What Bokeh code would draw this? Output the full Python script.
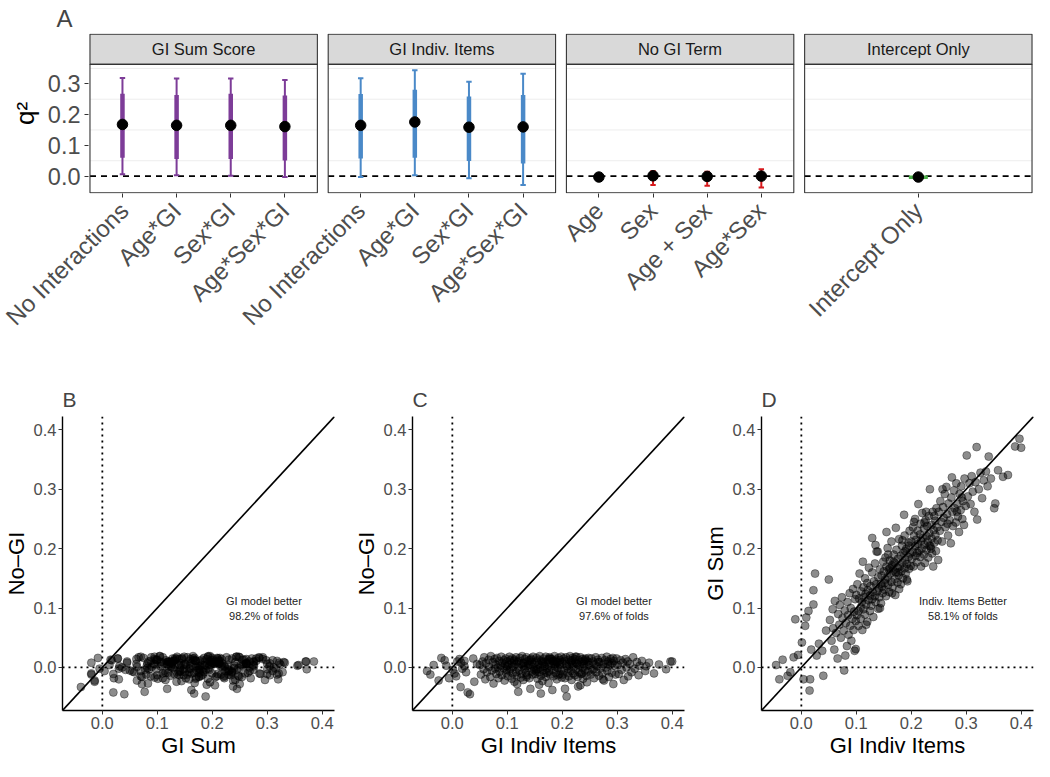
import math
from bokeh.plotting import figure
from bokeh.layouts import column, row
from bokeh.models import Range1d, FixedTicker, PrintfTickFormatter, Span, Slope
from bokeh.core.properties import value
from bokeh.embed import file_html
from bokeh.resources import INLINE

FONT = "Liberation Sans"

# ---------------- Panel A data ----------------
facet_names = ["GI Sum Score", "GI Indiv. Items", "No GI Term", "Intercept Only"]
facet_colors = ["#7D3C98", "#4A89C8", "#D7191C", "#4DAF4A"]
facet_models = [
    ["No Interactions", "Age*GI", "Sex*GI", "Age*Sex*GI"],
    ["No Interactions", "Age*GI", "Sex*GI", "Age*Sex*GI"],
    ["Age", "Sex", "Age + Sex", "Age*Sex"],
    ["Intercept Only"],
]
q2_mean = [
    [0.168, 0.165, 0.165, 0.161],
    [0.165, 0.176, 0.159, 0.160],
    [-0.003, 0.001, -0.001, 0.000],
    [-0.003],
]
q2_inner_lo = [
    [0.060, 0.056, 0.056, 0.051],
    [0.057, 0.060, 0.049, 0.041],
    [-0.004, -0.008, -0.010, -0.012],
    [-0.005],
]
q2_inner_hi = [
    [0.268, 0.264, 0.268, 0.262],
    [0.267, 0.281, 0.259, 0.264],
    [-0.002, 0.009, 0.008, 0.011],
    [-0.002],
]
q2_outer_lo = [
    [0.006, 0.003, 0.001, -0.003],
    [-0.003, 0.003, -0.007, -0.029],
    [-0.005, -0.029, -0.031, -0.037],
    [-0.006],
]
q2_outer_hi = [
    [0.319, 0.317, 0.317, 0.312],
    [0.318, 0.344, 0.307, 0.333],
    [-0.001, 0.016, 0.014, 0.022],
    [-0.001],
]
a_yticks = [0.0, 0.1, 0.2, 0.3]
a_minor_grid = [0.05, 0.15, 0.25, 0.35]

# ---------------- Panels B-D data (one value per fold) ----------------
gi_indiv = [
    -0.046, -0.040, -0.034, -0.025, -0.014, -0.011, -0.020, -0.006,
    0.004, 0.016, 0.015, 0.040, 0.009, 0.001, 0.013, 0.007, 0.022, 0.025, 0.022, 0.032, 0.045, 0.028, 0.038, 0.018,
    0.050, 0.052, 0.055, 0.057, 0.058, 0.060, 0.061, 0.063, 0.066, 0.067, 0.069, 0.070, 0.072, 0.074, 0.075,
    0.077, 0.078, 0.079, 0.080, 0.081, 0.083, 0.084, 0.085, 0.086, 0.088, 0.089, 0.090, 0.091, 0.093, 0.094,
    0.095, 0.096, 0.097, 0.098, 0.099, 0.099,
    0.100, 0.101, 0.102, 0.104, 0.104, 0.105, 0.106, 0.108, 0.108, 0.109, 0.110, 0.111, 0.113, 0.113, 0.114,
    0.116, 0.116, 0.117, 0.118, 0.120, 0.120, 0.121, 0.122, 0.123, 0.125, 0.125, 0.126, 0.127, 0.129, 0.129,
    0.130, 0.131, 0.132, 0.134, 0.134, 0.135, 0.136, 0.137, 0.138, 0.140, 0.140, 0.141, 0.142, 0.143, 0.145,
    0.145, 0.146, 0.147, 0.148, 0.149, 0.129, 0.135, 0.139, 0.112, 0.118, 0.143,
    0.150, 0.151, 0.153, 0.153, 0.154, 0.155, 0.157, 0.157, 0.158, 0.159, 0.160, 0.161, 0.162, 0.164, 0.164,
    0.165, 0.166, 0.167, 0.168, 0.170, 0.170, 0.171, 0.172, 0.173, 0.175, 0.175, 0.176, 0.177, 0.178, 0.179,
    0.181, 0.181, 0.182, 0.183, 0.184, 0.185, 0.186, 0.188, 0.188, 0.189, 0.190, 0.191, 0.192, 0.193, 0.195,
    0.195, 0.196, 0.197, 0.198, 0.199,
    0.187, 0.155, 0.165, 0.172, 0.178, 0.158, 0.184, 0.192, 0.168, 0.176, 0.152, 0.196, 0.161, 0.189,
    0.200, 0.201, 0.203, 0.203, 0.204, 0.205, 0.207, 0.207, 0.208, 0.209, 0.210, 0.212, 0.212, 0.213, 0.214,
    0.216, 0.216, 0.217, 0.218, 0.219, 0.220, 0.221, 0.223, 0.223, 0.224, 0.225, 0.226, 0.228, 0.228, 0.229,
    0.230, 0.231, 0.232, 0.233, 0.234, 0.235, 0.237, 0.237, 0.238, 0.239, 0.240, 0.241, 0.242, 0.244, 0.244,
    0.245, 0.246, 0.247, 0.248, 0.249,
    0.205, 0.218, 0.227, 0.236, 0.242, 0.211, 0.224, 0.233,
    0.250, 0.252, 0.253, 0.255, 0.256, 0.258, 0.259, 0.261, 0.262, 0.264, 0.265, 0.267, 0.268, 0.270, 0.272,
    0.273, 0.275, 0.276, 0.278, 0.279, 0.281, 0.282, 0.284, 0.285, 0.287, 0.288, 0.290, 0.291, 0.293, 0.294,
    0.296, 0.297, 0.299, 0.257, 0.266, 0.274, 0.283, 0.292,
    0.301, 0.303, 0.306, 0.308, 0.310, 0.312, 0.315, 0.317, 0.319, 0.320, 0.323, 0.326, 0.329, 0.332, 0.336,
    0.339, 0.341, 0.345,
    0.351, 0.353, 0.358, 0.367, 0.376, 0.389, 0.397, 0.400,
]
gi_sum = [
    0.004, -0.020, 0.013, -0.014, 0.017, 0.081, -0.008, 0.021,
    -0.020, -0.020, -0.039, -0.014, 0.084, 0.042, 0.095, 0.070, 0.106, 0.158, 0.130, 0.040, 0.062, 0.020, 0.028, 0.030,
    0.148, 0.080, 0.045, 0.098, 0.066, 0.030, 0.112, 0.058, 0.015, 0.090, 0.072, 0.105, 0.050, 0.118, 0.083,
    0.062, -0.005, 0.096, 0.020, 0.075, 0.036, 0.110, 0.088, 0.055, 0.125, 0.070, 0.100, 0.045, 0.082, 0.132,
    0.063, 0.094, 0.028, 0.115, 0.031, 0.078,
    0.122, 0.088, 0.140, 0.095, 0.070, 0.116, 0.158, 0.101, 0.082, 0.128, 0.110, 0.063, 0.135, 0.098, 0.118,
    0.150, 0.089, 0.124, 0.106, 0.142, 0.077, 0.130, 0.113, 0.168, 0.095, 0.121, 0.137, 0.104, 0.160, 0.115,
    0.127, 0.085, 0.145, 0.120, 0.175, 0.110, 0.140, 0.195, 0.128, 0.099, 0.152, 0.133, 0.118, 0.165, 0.141,
    0.108, 0.155, 0.136, 0.125, 0.178, 0.218, 0.206, 0.195, 0.178, 0.072, 0.100,
    0.162, 0.131, 0.185, 0.148, 0.120, 0.170, 0.152, 0.201, 0.139, 0.165, 0.127, 0.180, 0.158, 0.144, 0.212,
    0.172, 0.135, 0.163, 0.190, 0.149, 0.176, 0.122, 0.160, 0.198, 0.168, 0.143, 0.183, 0.155, 0.216, 0.170,
    0.140, 0.188, 0.162, 0.205, 0.176, 0.150, 0.193, 0.167, 0.222, 0.181, 0.158, 0.200, 0.174, 0.145, 0.210,
    0.186, 0.166, 0.230, 0.192, 0.171,
    0.257, 0.228, 0.125, 0.235, 0.132, 0.190, 0.214, 0.148, 0.178, 0.160, 0.142, 0.205, 0.167, 0.196,
    0.212, 0.183, 0.236, 0.195, 0.170, 0.222, 0.204, 0.250, 0.188, 0.215, 0.177, 0.230, 0.208, 0.275, 0.196,
    0.224, 0.186, 0.242, 0.213, 0.200, 0.260, 0.218, 0.190, 0.234, 0.207, 0.176, 0.248, 0.221, 0.198, 0.238,
    0.212, 0.185, 0.255, 0.226, 0.300, 0.204, 0.240, 0.217, 0.192, 0.262, 0.170, 0.231, 0.210, 0.247, 0.223,
    0.196, 0.268, 0.236, 0.214, 0.181,
    0.245, 0.170, 0.262, 0.200, 0.255, 0.193, 0.244, 0.205,
    0.262, 0.230, 0.280, 0.245, 0.212, 0.270, 0.252, 0.292, 0.236, 0.304, 0.258, 0.222, 0.276, 0.248, 0.209,
    0.286, 0.262, 0.238, 0.298, 0.268, 0.244, 0.310, 0.275, 0.254, 0.228, 0.292, 0.265, 0.305, 0.250, 0.280,
    0.240, 0.318, 0.272, 0.300, 0.242, 0.320, 0.262, 0.286,
    0.357, 0.288, 0.310, 0.275, 0.322, 0.296, 0.262, 0.312, 0.371, 0.249, 0.300, 0.328, 0.285, 0.315, 0.330,
    0.305, 0.355, 0.318,
    0.268, 0.276, 0.332, 0.321, 0.324, 0.372, 0.385, 0.370,
]
no_gi = [
    -0.006, -0.012, 0.004, -0.022, 0.012, 0.003, 0.016, -0.018,
    -0.010, 0.008, -0.033, -0.024, 0.010, -0.004, 0.014, -0.015, 0.002, -0.008, 0.011, -0.045, 0.006, -0.042, 0.015, -0.002,
    0.004, -0.012, 0.010, -0.003, 0.017, -0.020, 0.007, -0.008, 0.013, 0.001, -0.016, 0.019, -0.005, 0.009, -0.027,
    0.014, -0.002, 0.005, -0.011, 0.016, 0.000, -0.018, 0.011, -0.007, 0.003, 0.018, -0.013, 0.008, -0.001, 0.012,
    -0.022, 0.006, 0.015, -0.009, 0.002, -0.004,
    0.010, -0.015, 0.004, 0.018, -0.006, 0.012, -0.002, -0.019, 0.007, 0.015, -0.010, 0.001, -0.024, 0.013, 0.005,
    -0.008, 0.017, -0.014, 0.009, 0.000, -0.041, 0.011, -0.005, 0.016, -0.017, 0.006, -0.011, 0.019, 0.003, -0.021,
    0.008, -0.003, 0.014, -0.009, 0.002, 0.017, -0.013, 0.010, -0.001, 0.012, -0.018, 0.005, -0.036, 0.015, -0.007,
    0.009, -0.012, 0.018, 0.001, -0.004, 0.007, -0.016, 0.004, 0.011, -0.028, 0.013,
    0.008, -0.011, 0.016, -0.003, 0.010, -0.019, 0.005, 0.013, -0.008, 0.019, 0.000, -0.014, 0.011, -0.023, 0.006,
    -0.005, 0.015, -0.010, 0.003, 0.018, -0.016, 0.009, -0.002, 0.012, -0.026, 0.007, -0.007, 0.017, -0.012, 0.002,
    0.014, -0.004, -0.038, 0.010, -0.015, 0.006, 0.019, -0.009, 0.001, 0.013, -0.020, 0.008, -0.001, 0.016, -0.011,
    0.004, 0.012, -0.006, 0.018, -0.017,
    0.005, -0.003, 0.009, -0.009, 0.015, -0.029, 0.011, -0.013, 0.002, 0.014, -0.006, 0.007, -0.044, 0.010,
    0.009, -0.012, 0.015, -0.004, 0.011, -0.018, 0.006, 0.017, -0.049, 0.002, -0.009, 0.013, -0.015, 0.004, 0.019,
    -0.006, 0.010, -0.021, 0.007, 0.016, -0.010, 0.001, 0.014, -0.013, 0.008, -0.003, 0.018, -0.016, 0.005, -0.032,
    0.012, -0.008, 0.003, 0.017, -0.011, 0.009, -0.001, 0.014, -0.019, 0.006, 0.011, -0.005, 0.015, -0.014, 0.002,
    -0.025, 0.010, -0.007, 0.016, 0.004,
    -0.036, 0.012, 0.007, -0.010, 0.013, -0.002, 0.018, -0.030,
    0.008, -0.012, 0.015, -0.004, 0.010, -0.018, 0.005, 0.017, -0.008, 0.002, 0.013, -0.014, 0.009, -0.001, 0.016,
    -0.010, 0.006, -0.022, 0.012, 0.000, 0.018, -0.006, 0.010, -0.016, 0.004, 0.014, -0.009, 0.007, -0.028, 0.011,
    0.003, -0.012, 0.015, -0.003, 0.009, -0.020, 0.006, 0.016,
    0.004, -0.011, 0.012, -0.004, 0.008, -0.021, 0.014, 0.000, 0.010, -0.015, 0.006, -0.008, 0.017, -0.002, 0.009,
    -0.013, 0.003, 0.011,
    -0.006, 0.002, 0.008, -0.010, 0.005, -0.003, 0.010, 0.010,
]
scatter_ticks = [0.0, 0.1, 0.2, 0.3, 0.4]
notes = [
    ("GI model better", "98.2% of folds"),
    ("GI model better", "97.6% of folds"),
    ("Indiv. Items Better", "58.1% of folds"),
]

nfold = min(len(gi_indiv), len(gi_sum), len(no_gi))
gi_indiv, gi_sum, no_gi = gi_indiv[:nfold], gi_sum[:nfold], no_gi[:nfold]

# ---------------- Panel A ----------------
FACET_LEFT = [0, 242, 484, 726]
FACET_W = 231
P_BOT, P_TOP, S_TOP = -0.054, 0.363, 0.461

pa = figure(width=1034, height=356, x_range=Range1d(-1.5, 958.5), y_range=Range1d(-0.0565, 0.4635),
            output_backend="svg", toolbar_location=None, outline_line_color=None,
            min_border_left=88, min_border_right=1, min_border_top=33, min_border_bottom=163)
pa.xgrid.visible = False
pa.ygrid.visible = False
pa.title.text = "A"
pa.title.text_font = FONT
pa.title.text_font_size = "24px"
pa.title.text_font_style = "normal"
pa.title.align = "left"
pa.title.offset = -32
pa.title.standoff = 4

tick_pos, tick_lab = [], []
for k in range(4):
    L = FACET_LEFT[k]
    R = L + FACET_W
    n = len(facet_models[k])
    unit = FACET_W / (n + 0.2)
    xs = [round(L + unit * (i + 0.6), 1) for i in range(n)]
    hw = 0.05 * unit
    tick_pos += xs
    tick_lab += facet_models[k]
    col = facet_colors[k]
    pa.segment(x0=[L] * 4, x1=[R] * 4, y0=a_minor_grid, y1=a_minor_grid, line_color="#EDEDED", line_width=1)
    pa.segment(x0=[L], x1=[R], y0=[0], y1=[0], line_color="black", line_width=1.6, line_dash="6 5")
    pa.segment(x0=xs, x1=xs, y0=q2_outer_lo[k], y1=q2_outer_hi[k], line_color=col, line_width=2)
    pa.segment(x0=[x - hw for x in xs], x1=[x + hw for x in xs], y0=q2_outer_lo[k], y1=q2_outer_lo[k],
               line_color=col, line_width=2)
    pa.segment(x0=[x - hw for x in xs], x1=[x + hw for x in xs], y0=q2_outer_hi[k], y1=q2_outer_hi[k],
               line_color=col, line_width=2)
    pa.segment(x0=xs, x1=xs, y0=q2_inner_lo[k], y1=q2_inner_hi[k], line_color=col, line_width=4.5)
    pa.scatter(xs, q2_mean[k], size=10.5, fill_color="black", line_color="black")
    pa.quad(left=[L], right=[R], bottom=[P_TOP], top=[S_TOP], fill_color="#D9D9D9", line_color="#333333",
            line_width=1.1)
    pa.quad(left=[L], right=[R], bottom=[P_BOT], top=[P_TOP], fill_color=None, line_color="#333333",
            line_width=1.1)
    pa.text(x=[(L + R) / 2], y=[(P_TOP + S_TOP) / 2], text=[facet_names[k]], text_align="center",
            text_baseline="middle", text_font=value(FONT), text_font_size="16.5px", text_color="#1A1A1A")

pa.xaxis.ticker = FixedTicker(ticks=tick_pos, minor_ticks=[])
pa.xaxis.major_label_overrides = {p: l for p, l in zip(tick_pos, tick_lab)}
pa.xaxis.major_label_orientation = math.pi / 4
pa.yaxis.ticker = FixedTicker(ticks=a_yticks, minor_ticks=[])
pa.yaxis.formatter = PrintfTickFormatter(format="%.1f")
pa.yaxis.axis_label = "q²"
for ax in (pa.xaxis[0], pa.yaxis[0]):
    ax.axis_line_color = None
    ax.major_tick_line_color = "#333333"
    ax.major_tick_out = 4
    ax.major_tick_in = 0
    ax.minor_tick_line_color = None
    ax.major_label_text_font = FONT
    ax.major_label_text_color = "#4D4D4D"
    ax.axis_label_text_font = FONT
    ax.axis_label_text_font_size = "26px"
    ax.axis_label_text_font_style = "normal"
    ax.axis_label_text_color = "black"
pa.yaxis.major_label_text_font_size = "23.5px"
pa.xaxis.major_label_text_font_size = "24px"
pa.yaxis.major_label_standoff = 4
pa.xaxis.major_label_standoff = 9


# ---------------- Panels B-D ----------------
def scatter_panel(xv, yv, xlab, ylab, letter, note, width, rb):
    lo, hi = -0.0725, 0.4225
    p = figure(width=width, height=405, x_range=Range1d(lo, hi), y_range=Range1d(lo, hi),
               output_backend="svg", toolbar_location=None, outline_line_color=None,
               min_border_left=61, min_border_right=rb, min_border_top=60, min_border_bottom=51)
    p.xgrid.visible = False
    p.ygrid.visible = False
    p.title.text = letter
    p.title.text_font = FONT
    p.title.text_font_size = "21px"
    p.title.text_font_style = "normal"
    p.title.align = "left"
    p.title.standoff = 12
    for ax in (p.xaxis[0], p.yaxis[0]):
        ax.ticker = FixedTicker(ticks=scatter_ticks, minor_ticks=[])
        ax.formatter = PrintfTickFormatter(format="%.1f")
        ax.axis_line_color = "black"
        ax.axis_line_width = 1.4
        ax.major_tick_line_color = "#333333"
        ax.major_tick_out = 4
        ax.major_tick_in = 0
        ax.minor_tick_line_color = None
        ax.major_label_text_font = FONT
        ax.major_label_text_font_size = "16.5px"
        ax.major_label_text_color = "#4D4D4D"
        ax.major_label_standoff = 2
        ax.axis_label_text_font = FONT
        ax.axis_label_text_font_size = "22px"
        ax.axis_label_text_font_style = "normal"
        ax.axis_label_text_color = "black"
        ax.axis_label_standoff = 1
    p.yaxis.axis_label_standoff = 2
    p.xaxis.axis_label = xlab
    p.yaxis.axis_label = ylab
    p.scatter(xv, yv, size=8, fill_color="black", fill_alpha=0.45, line_color="black", line_alpha=0.5,
              line_width=0.7)
    p.add_layout(Span(location=0, dimension="height", line_color="black", line_width=1.8, line_dash="2 4"))
    p.add_layout(Span(location=0, dimension="width", line_color="black", line_width=1.8, line_dash="2 4"))
    p.add_layout(Slope(gradient=1, y_intercept=0, line_color="black", line_width=1.6))
    p.text(x=[0.294, 0.294], y=[0.112, 0.086], text=list(note), text_align="center", text_baseline="middle",
           text_font=value(FONT), text_font_size="11px", text_color="#222222")
    return p


pb = scatter_panel(gi_sum, no_gi, "GI Sum", "No\u2013GI", "B", notes[0], 350, 16)
pc = scatter_panel(gi_indiv, no_gi, "GI Indiv Items", "No\u2013GI", "C", notes[1], 349, 15)
pd = scatter_panel(gi_indiv, gi_sum, "GI Indiv Items", "GI Sum", "D", notes[2], 335, 1)

layout = column(pa, row(pb, pc, pd))
open("out.html", "w").write(file_html(layout, INLINE))
